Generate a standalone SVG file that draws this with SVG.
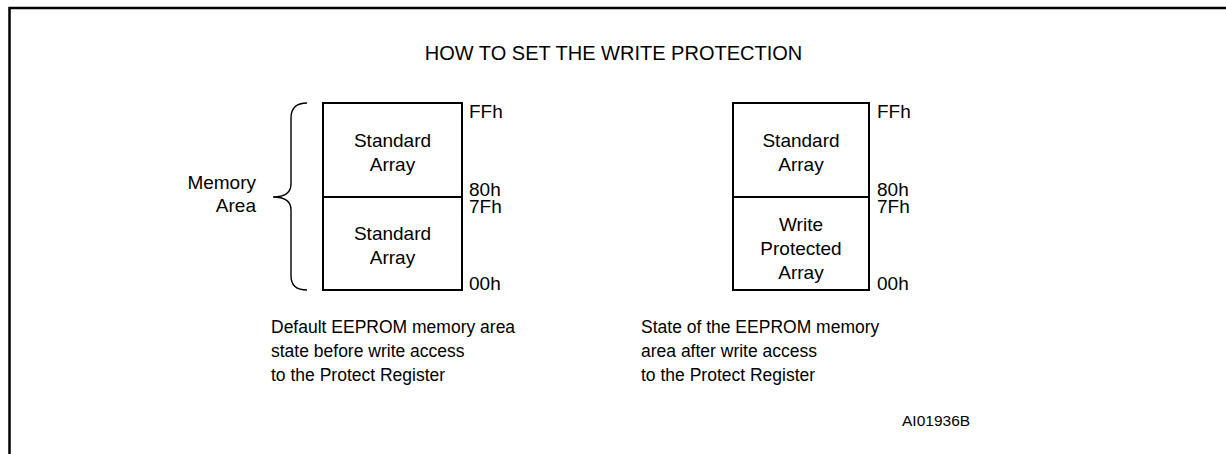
<svg xmlns="http://www.w3.org/2000/svg" width="1226" height="454" viewBox="0 0 1226 454">
<style>
text{font-family:"Liberation Sans",Arial,sans-serif;font-size:19px;fill:#000}
.box{fill:#fff;stroke:#000;stroke-width:2}
.c{text-anchor:middle}
.r{text-anchor:end}
.cap{font-size:17.5px}
</style>
<rect width="1226" height="454" fill="#fff"/>
<path d="M9.5 454 V8 H1226" fill="none" stroke="#000" stroke-width="2.5"/>
<text class="c" x="613.5" y="60" style="font-size:20px">HOW TO SET THE WRITE PROTECTION</text>
<g id="memory-area">
<text class="r" x="256" y="189">Memory</text>
<text class="r" x="256" y="212">Area</text>
</g>
<g id="connectors">
<path d="M307 103 Q291 103 291 118 V184 Q291 197 273 197 Q291 197 291 210 V276 Q291 290 307 290" fill="none" stroke="#000" stroke-width="1.4"/>
</g>
<g id="left-upper">
<rect class="box" x="323" y="103" width="139" height="94"/>
<text class="c" x="392.5" y="147">Standard</text>
<text class="c" x="392.5" y="171">Array</text>
</g>
<g id="left-lower">
<rect class="box" x="323" y="197" width="139" height="93"/>
<text class="c" x="392.5" y="240">Standard</text>
<text class="c" x="392.5" y="264">Array</text>
</g>
<g id="left-addr">
<text x="469" y="118">FFh</text>
<text x="469" y="196">80h</text>
<text x="469" y="213">7Fh</text>
<text x="469" y="290">00h</text>
</g>
<g id="right-upper">
<rect class="box" x="733" y="103" width="136" height="94"/>
<text class="c" x="801" y="147">Standard</text>
<text class="c" x="801" y="171">Array</text>
</g>
<g id="right-lower">
<rect class="box" x="733" y="197" width="136" height="93"/>
<text class="c" x="801" y="231">Write</text>
<text class="c" x="801" y="255">Protected</text>
<text class="c" x="801" y="279">Array</text>
</g>
<g id="right-addr">
<text x="877" y="118">FFh</text>
<text x="877" y="196">80h</text>
<text x="877" y="213">7Fh</text>
<text x="877" y="290">00h</text>
</g>
<g id="left-caption">
<text class="cap" x="271" y="333">Default EEPROM memory area</text>
<text class="cap" x="271" y="357">state before write access</text>
<text class="cap" x="271" y="381">to the Protect Register</text>
</g>
<g id="right-caption">
<text class="cap" x="641" y="333">State of the EEPROM memory</text>
<text class="cap" x="641" y="357">area after write access</text>
<text class="cap" x="641" y="381">to the Protect Register</text>
</g>
<text x="902" y="426" style="font-size:15.5px">AI01936B</text>
</svg>
